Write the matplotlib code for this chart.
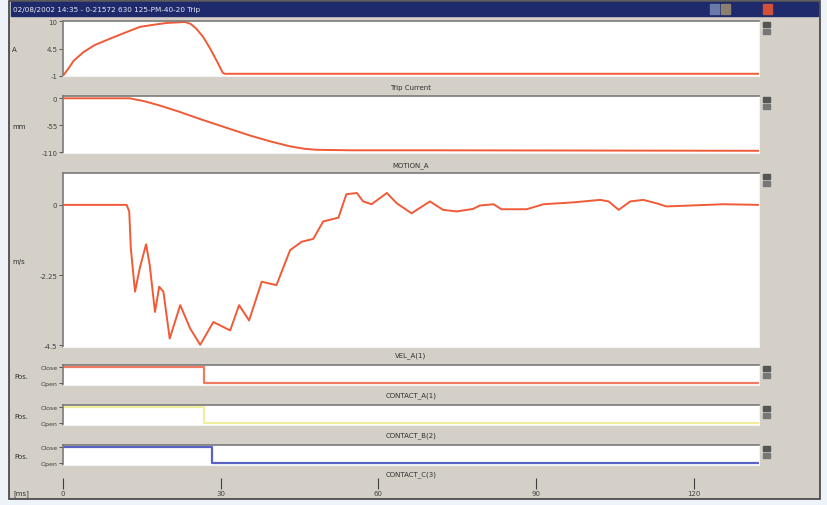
import matplotlib.pyplot as plt
from matplotlib.patches import Rectangle

plt.rcParams['axes.unicode_minus'] = False

W, H = 827, 506

# time axis in ms
trip_t = [0, 1, 2, 3.9, 6, 8.9, 11.5, 14.6, 17, 19.7, 21.5, 23.2, 24.3, 25.4, 26.7, 28, 29.3, 30.4, 30.8, 132.4]
trip_a = [-1, 0.4, 2.0, 3.8, 5.2, 6.5, 7.6, 8.9, 9.3, 9.7, 9.8, 9.9, 9.5, 8.5, 6.8, 4.5, 1.9, -0.4, -0.6, -0.6]

motion_t = [0, 12.7, 15.5, 18.5, 22, 26, 30.5, 35.6, 39.5, 43.2, 46, 48.3, 55, 70, 132.4]
motion_mm = [0, 0, -6, -15, -27, -42, -58, -76, -88, -98, -103, -105, -106, -106, -107]

vel_t = [0, 12.1, 12.6, 12.9, 13.7, 14.6, 15.8, 16.5, 17.5, 18.3, 19.1, 20.3, 22.3, 24.2, 26.1,
         28.6, 31.8, 33.5, 35.4, 37.8, 40.6, 43.2, 45.4, 47.6, 49.5, 52.4, 53.9, 55.9, 57.1,
         58.7, 61.6, 63.5, 66.3, 69.8, 72.3, 74.9, 78, 79.3, 81.9, 83.4, 88.2, 91.4, 97.1,
         102.2, 103.8, 105.7, 107.9, 110.4, 112.9, 114.8, 125.6, 132.3]
vel_ms = [0, 0, -0.21, -1.39, -2.78, -2.03, -1.26, -1.93, -3.43, -2.62, -2.78, -4.28, -3.21, -3.96, -4.48,
          -3.75, -4.02, -3.21, -3.70, -2.46, -2.57, -1.45, -1.18, -1.09, -0.53, -0.41, 0.34, 0.38, 0.11,
          0.02, 0.38, 0.05, -0.27, 0.11, -0.16, -0.21, -0.13, -0.02, 0.02, -0.14, -0.14, 0.02, 0.08,
          0.16, 0.11, -0.16, 0.11, 0.16, 0.05, -0.05, 0.02, 0.0]

# contact state: 1 = Close, 0 = Open
contact_names = ["CONTACT_A(1)", "CONTACT_B(2)", "CONTACT_C(3)"]
contact_switch = [26.8, 26.8, 28.3]
contact_colors = ["#f07a62", "#f2eea0", "#5a62c4"]

x_ticks = [0, 30, 60, 90, 120]
t_end = 132.4

LINE = "#f05a36"
GRAY = "#d4d0c8"


def box(x0, y0, x1, y1):
    return [x0 / W, 1 - y1 / H, (x1 - x0) / W, (y1 - y0) / H]


def style_panel(ax):
    ax.set_facecolor("white")
    ax.set_xlim(0, t_end)
    ax.set_xticks([])
    for s in ["top", "left"]:
        ax.spines[s].set_color("#7a7a7a")
        ax.spines[s].set_linewidth(1.2)
    for s in ["right", "bottom"]:
        ax.spines[s].set_color("#f4f4f4")
    ax.tick_params(axis="y", labelsize=5, length=3, width=0.6, colors="#404040", pad=1)


def panel_icons(y):
    fig.patches.append(Rectangle((763 / W, 1 - (y + 6) / H), 7 / W, 5 / H,
                                 transform=fig.transFigure, color="#555555"))
    fig.patches.append(Rectangle((763 / W, 1 - (y + 13) / H), 7 / W, 5 / H,
                                 transform=fig.transFigure, color="#777777"))


fig = plt.figure(figsize=(W / 100, H / 100), dpi=100, facecolor="#eef2f9")

# window body and title bar (behind the axes)
fig.patches.append(Rectangle((9 / W, 1 - 500 / H), 811 / W, 498 / H, transform=fig.transFigure,
                             facecolor=GRAY, edgecolor="#404040", linewidth=1.2, zorder=-10))
fig.patches.append(Rectangle((11 / W, 1 - 17 / H), 807 / W, 14 / H, transform=fig.transFigure,
                             color="#1f2a6c", zorder=-9))
fig.text(13 / W, 1 - 10 / H, "02/08/2002 14:35 - 0-21572 630 125-PM-40-20 Trip",
         color="#e8e8f0", fontsize=5.2, va="center", ha="left")
for bx, bc in [(710, "#6a7aa8"), (721, "#8a8070"), (763, "#d0503a")]:
    fig.patches.append(Rectangle((bx / W, 1 - 15 / H), 9 / W, 10 / H,
                                 transform=fig.transFigure, color=bc))

# trip current
ax = fig.add_axes(box(63, 22, 759, 77))
ax.plot(trip_t, trip_a, color=LINE, lw=1.4, solid_joinstyle="round")
ax.set_ylim(-1.05, 10.1)
ax.set_yticks([10, 4.5, -1])
ax.set_yticklabels(["10", "4.5", "-1"])
style_panel(ax)
panel_icons(22)

# motion
ax = fig.add_axes(box(63, 97, 759, 154))
ax.plot(motion_t, motion_mm, color=LINE, lw=1.4, solid_joinstyle="round")
ax.set_ylim(-111.5, 4.7)
ax.set_yticks([0, -55, -110])
style_panel(ax)
panel_icons(97)

# velocity
ax = fig.add_axes(box(63, 174, 759, 348))
ax.plot(vel_t, vel_ms, color=LINE, lw=1.4, solid_joinstyle="round")
ax.set_ylim(-4.55, 1.02)
ax.set_yticks([0, -2.25, -4.5])
ax.set_yticklabels(["0", "-2.25", "-4.5"])
style_panel(ax)
panel_icons(174)

# contacts
contact_tops = [366, 406, 446]
for top, sw, col in zip(contact_tops, contact_switch, contact_colors):
    ax = fig.add_axes(box(63, top, 759, top + 20))
    ax.step([0, sw, t_end], [1, 0, 0], where="post", color=col, lw=1.6)
    ax.set_ylim(-0.1, 1.1)
    ax.set_yticks([1, 0])
    ax.set_yticklabels(["Close", "Open"])
    style_panel(ax)
    ax.tick_params(axis="y", labelsize=4.5)
    panel_icons(top)
    fig.text(14 / W, 1 - (top + 11) / H, "Pos.", fontsize=5, color="#303030", va="center")

# panel captions
captions = [("Trip Current", 88), ("MOTION_A", 166), ("VEL_A(1)", 356),
            (contact_names[0], 396), (contact_names[1], 436), (contact_names[2], 475)]
for txt, y in captions:
    fig.text(411 / W, 1 - y / H, txt, fontsize=5, color="#303030", ha="center", va="center")

# axis unit labels
for txt, x, y in [("A", 12, 50), ("mm", 12, 127), ("m/s", 12, 262), ("[ms]", 13, 494)]:
    fig.text(x / W, 1 - y / H, txt, fontsize=5, color="#303030", va="center")

# time axis
ax = fig.add_axes(box(63, 479, 759, 490))
ax.set_xlim(0, t_end)
ax.set_facecolor("none")
for s in ax.spines.values():
    s.set_visible(False)
ax.set_yticks([])
ax.set_xticks(x_ticks)
ax.tick_params(axis="x", direction="in", length=8, width=0.8, colors="#404040", labelsize=5, pad=1)

fig.savefig("out.png", dpi=100, facecolor=fig.get_facecolor())
